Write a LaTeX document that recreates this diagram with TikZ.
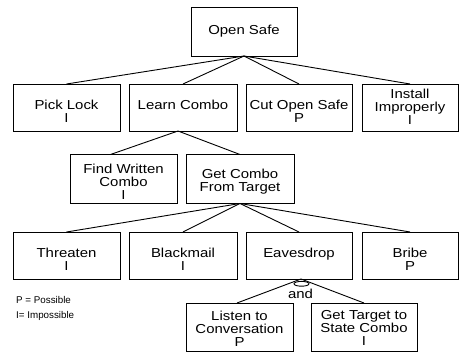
\documentclass[tikz,border=0pt]{standalone}
\usepackage{fontspec}
\setmainfont[FakeStretch=1.15]{Liberation Sans}
\newfontfamily\legendfont{Liberation Sans}
\begin{document}
\begin{tikzpicture}[x=1pt,y=-1pt,
  box/.style={draw,line width=0.9pt,rectangle,inner sep=0pt,outer sep=0pt},
  txt/.style={align=center,inner sep=0pt,anchor=north,font=\fontsize{13}{13}\selectfont},
  conn/.style={line width=0.9pt},
  legend/.style={anchor=base west,inner sep=0pt,font=\legendfont\fontsize{9.8}{11}\selectfont}]
\useasboundingbox (0,0) rectangle (459,352);
% boxes
\node[box,minimum width=106pt,minimum height=49pt] (open) at (244,31.5) {};
\node[box,minimum width=107pt,minimum height=47pt] (pick) at (66.5,107.5) {};
\node[box,minimum width=108pt,minimum height=47pt] (learn) at (183,107.5) {};
\node[box,minimum width=106pt,minimum height=47pt] (cut) at (299,107.5) {};
\node[box,minimum width=96pt,minimum height=47pt] (install) at (410,107.5) {};
\node[box,minimum width=107pt,minimum height=49pt] (find) at (123.5,179) {};
\node[box,minimum width=108pt,minimum height=49pt] (gcombo) at (240,179) {};
\node[box,minimum width=107pt,minimum height=47pt] (threat) at (66.5,255.5) {};
\node[box,minimum width=108pt,minimum height=47pt] (black) at (183,255.5) {};
\node[box,minimum width=106pt,minimum height=47pt] (eav) at (299,255.5) {};
\node[box,minimum width=96pt,minimum height=47pt] (bribe) at (410,255.5) {};
\node[box,minimum width=107pt,minimum height=48pt] (listen) at (239.5,327) {};
\node[box,minimum width=106pt,minimum height=48pt] (gtarget) at (364,327) {};
% texts
\node[txt,anchor=center] (open-t) at (open.center) {Open Safe};
\node[txt] (pick-t) at ([yshift=-16pt]pick.north) {Pick Lock\\I};
\node[txt] (learn-t) at ([yshift=-16pt]learn.north) {Learn Combo};
\node[txt] (cut-t) at ([yshift=-16pt]cut.north) {Cut Open Safe\\P};
\node[txt] (install-t) at ([yshift=-4.5pt]install.north) {Install\\Improperly\\I};
\node[txt] (find-t) at ([yshift=-9.3pt]find.north) {Find Written\\Combo\\I};
\node[txt] (gcombo-t) at ([yshift=-14.3pt]gcombo.north) {Get Combo\\From Target};
\node[txt] (threat-t) at ([yshift=-16pt]threat.north) {Threaten\\I};
\node[txt] (black-t) at ([yshift=-16pt]black.north) {Blackmail\\I};
\node[txt] (eav-t) at ([yshift=-16pt]eav.north) {Eavesdrop};
\node[txt] (bribe-t) at ([yshift=-16pt]bribe.north) {Bribe\\P};
\node[txt] (listen-t) at ([yshift=-7.7pt]listen.north) {Listen to\\Conversation\\P};
\node[txt] (gtarget-t) at ([yshift=-7.7pt]gtarget.north) {Get Target to\\State Combo\\I};
% connectors
\draw[conn] (open.south) -- (pick.north);
\draw[conn] (open.south) -- (learn.north);
\draw[conn] (open.south) -- (cut.north);
\draw[conn] (open.south) -- (install.north);
\draw[conn] ([xshift=-5pt]learn.south) -- ([xshift=-13pt]find.north);
\draw[conn] ([xshift=-5pt]learn.south) -- (gcombo.north);
\draw[conn] (gcombo.south) -- (threat.north);
\draw[conn] (gcombo.south) -- (black.north);
\draw[conn] (gcombo.south) -- (eav.north);
\draw[conn] (gcombo.south) -- (bribe.north);
\draw[conn] ([xshift=2pt]eav.south) -- ([xshift=-2.5pt]listen.north);
\draw[conn] ([xshift=2pt]eav.south) -- (gtarget.north);
% and-gate mark
\draw[conn] ([xshift=2.5pt,yshift=-4.8pt]eav.south) ellipse[x radius=7.5pt,y radius=2.4pt];
\node[txt,anchor=base] (and-t) at (300.5,298.3) {and};
% legend
\node[legend] (leg1) at (16,304) {P = Possible};
\node[legend] (leg2) at (16,319) {I= Impossible};
\end{tikzpicture}
\end{document}
